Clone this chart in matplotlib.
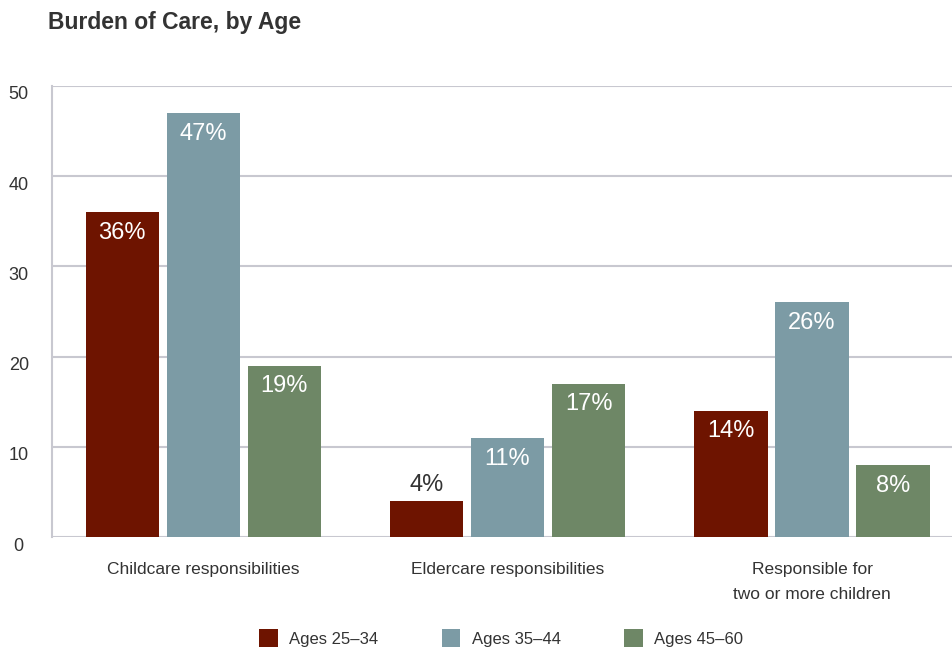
import numpy as np
import matplotlib.pyplot as plt
from matplotlib.patches import Patch
from matplotlib.transforms import ScaledTranslation

plt.rcParams['font.family'] = ['Liberation Sans', 'DejaVu Sans']

categories = ['Childcare responsibilities', 'Eldercare responsibilities',
              'Responsible for\ntwo or more children']
series_names = ['Ages 25\u201334', 'Ages 35\u201344', 'Ages 45\u201360']
ages_25_34 = [36, 4, 14]
ages_35_44 = [47, 11, 26]
ages_45_60 = [19, 17, 8]
yticks = [0, 10, 20, 30, 40, 50]

colors = ['#6e1400', '#7c9ba5', '#6e8766']
grid_col = '#c8c8d0'
text_col = '#333333'

fig = plt.figure(figsize=(9.53, 6.55), dpi=100)
ax = fig.add_axes([0.0546, 0.18, 0.9454, 0.689])

x = np.arange(len(categories))
width = 0.24
step = 0.266
for i, (vals, col) in enumerate(zip([ages_25_34, ages_35_44, ages_45_60], colors)):
    xs = x + (i - 1) * step
    ax.bar(xs, vals, width, color=col, zorder=3)
    for xi, v in zip(xs, vals):
        if v < 6:
            ax.text(xi, v + 0.6, f'{v}%', ha='center', va='bottom',
                    color=text_col, fontsize=17, zorder=4)
        else:
            ax.text(xi, v - 2.3, f'{v}%', ha='center', va='center',
                    color='white', fontsize=17, zorder=4)

ax.set_xlim(-0.496, 2.463)
ax.set_ylim(0, 50)
ax.set_yticks(yticks)
ax.yaxis.grid(True, color=grid_col, linewidth=1.5, zorder=0)
ax.set_axisbelow(True)
for s in ['top', 'right', 'bottom']:
    ax.spines[s].set_visible(False)
ax.spines['left'].set_color(grid_col)
ax.spines['left'].set_linewidth(1.5)
ax.tick_params(axis='y', length=0, pad=24, labelsize=13, labelcolor=text_col)
ax.set_yticklabels([str(t) for t in yticks], ha='center')
# tick numbers sit a little below their gridlines
shift = ScaledTranslation(0, -7 / 100, fig.dpi_scale_trans)
for lab in ax.get_yticklabels():
    lab.set_transform(lab.get_transform() + shift)
ax.tick_params(axis='x', length=0, pad=18, labelsize=12.5, labelcolor=text_col)
ax.set_xticks(x)
ax.set_xticklabels(categories, linespacing=1.85)

fig.text(0.05, 0.965, 'Burden of Care, by Age', fontsize=16.5, fontweight='bold',
         color=text_col, va='center', ha='left')

handles = [Patch(facecolor=c, edgecolor='none') for c in colors]
fig.legend(handles, series_names, loc='center', bbox_to_anchor=(0.526, 0.026),
           ncol=3, frameon=False, fontsize=12, handlelength=1.1, handleheight=1.3,
           columnspacing=3.8, handletextpad=0.7, labelcolor=text_col)

fig.savefig('out.png', dpi=100)
